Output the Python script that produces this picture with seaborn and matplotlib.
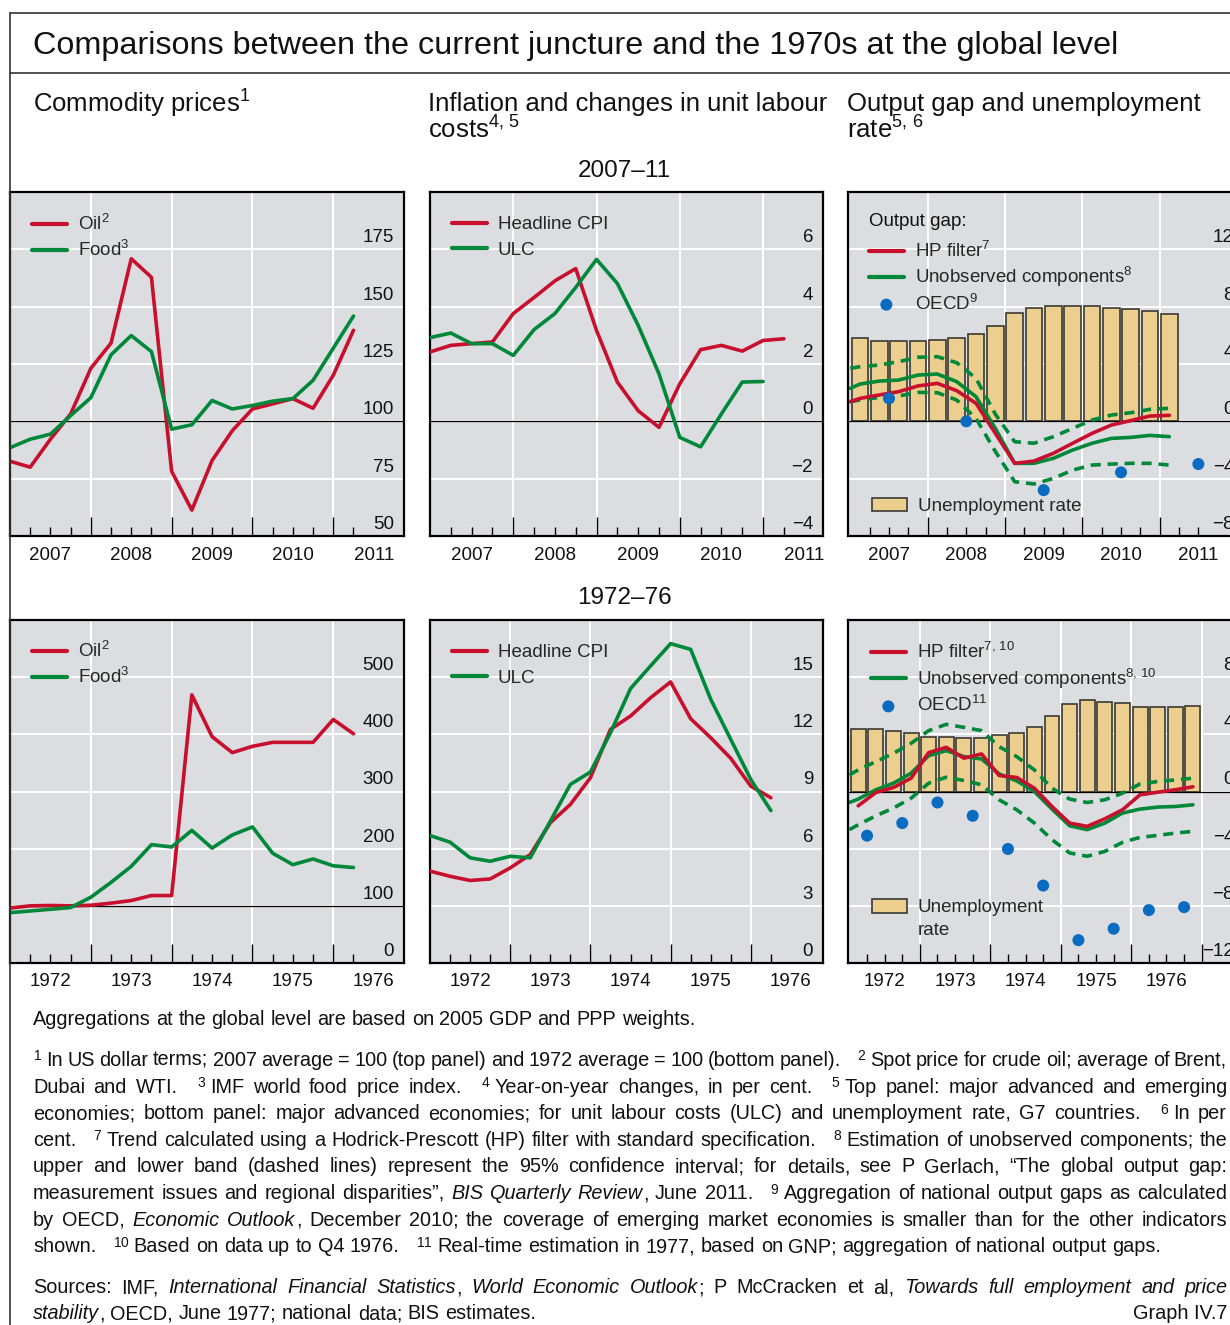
import re
import numpy as np
import matplotlib
matplotlib.use("Agg")
import matplotlib.pyplot as plt
import matplotlib.transforms as mtransforms
from matplotlib.lines import Line2D
from matplotlib.patches import Patch
import seaborn as sns

sns.set_style("white")
plt.rcParams["font.family"] = ["Liberation Sans", "DejaVu Sans"]
plt.rcParams["mathtext.fontset"] = "custom"
plt.rcParams["mathtext.rm"] = "Liberation Sans"
plt.rcParams["mathtext.it"] = "Liberation Sans:italic"
plt.rcParams["mathtext.bf"] = "Liberation Sans:bold"
plt.rcParams["axes.unicode_minus"] = True

W, H, DPI = 1230, 1325, 100

# ---------------------------------------------------------------- data
# 2007-11, quarterly
q_0711 = 2007 + 0.25 * np.arange(18)
oil_0711 = [82.6, 80.0, 92.2, 103.2, 123.1, 134.1, 170.9, 162.8, 78.2, 61.3,
            82.9, 95.9, 105.4, 107.6, 109.9, 105.7, 120.1, 139.7]
food_0711 = [88.5, 92.2, 94.4, 102.5, 110.3, 129.0, 137.4, 130.4, 96.6, 98.5,
             109.1, 105.4, 106.9, 108.8, 109.9, 117.9, 131.9, 145.9]
cpi_0711 = [2.42, 2.65, 2.71, 2.77, 3.76, 4.32, 4.90, 5.33, 3.17, 1.37,
            0.37, -0.21, 1.31, 2.50, 2.65, 2.45, 2.82, 2.88]
ulc_0711 = [2.92, 3.08, 2.71, 2.71, 2.30, 3.20, 3.76, 4.67, 5.65, 4.81,
            3.35, 1.66, -0.56, -0.89, 0.26, 1.37, 1.39]

qmid_0711 = 2007.125 + 0.25 * np.arange(17)
gap_x_0711 = np.concatenate(([2007.0], qmid_0711))
hp_0711 = [1.37, 1.60, 1.84, 2.07, 2.47, 2.65, 2.14, 1.26, -0.84, -2.93,
           -2.77, -2.23, -1.53, -0.84, -0.26, 0.05, 0.37, 0.42]
uc_0711 = [2.30, 2.60, 2.81, 2.88, 3.23, 3.30, 2.77, 1.72, -0.49, -2.93,
           -2.93, -2.58, -2.00, -1.53, -1.19, -1.12, -0.98, -1.07]
uc_hi_0711 = [3.70, 3.81, 3.93, 4.16, 4.47, 4.51, 4.09, 3.00, 0.50, -1.42,
              -1.53, -1.07, -0.49, 0.09, 0.44, 0.60, 0.84, 0.91]
uc_lo_0711 = [1.37, 1.49, 1.67, 1.77, 2.02, 2.00, 1.49, 0.20, -2.10, -4.21,
              -4.37, -3.98, -3.40, -3.05, -2.98, -2.93, -2.93, -3.05]
unemp_0711 = [5.79, 5.63, 5.60, 5.58, 5.67, 5.84, 6.07, 6.65, 7.53, 7.88,
              8.05, 8.05, 8.05, 7.88, 7.84, 7.67, 7.51]
oecd_x_0711 = [2007.5, 2008.5, 2009.5, 2010.5, 2011.5]
oecd_0711 = [1.6, 0.0, -4.8, -3.56, -2.98]

# 1972-76, quarterly
q_7276 = 1972 + 0.25 * np.arange(18)
oil_7276 = [96, 100, 100.6, 100, 101, 104.7, 109.3, 118, 118, 469,
            396, 368, 379, 386, 386, 386, 426, 401]
food_7276 = [88, 91, 94, 97, 115, 141, 169, 207, 203, 232,
             201, 224, 238, 192, 172, 182, 170, 167]
cpi_7276 = [4.82, 4.55, 4.33, 4.41, 4.99, 5.69, 7.36, 8.32, 9.72, 12.26,
            12.96, 13.92, 14.75, 12.82, 11.82, 10.74, 9.28, 8.67]
ulc_7276 = [6.69, 6.34, 5.52, 5.34, 5.60, 5.52, 7.44, 9.37, 10.02, 12.08,
            14.40, 15.59, 16.76, 16.46, 13.84, 11.73, 9.63, 8.00]

qmid_7276 = 1972.125 + 0.25 * np.arange(20)
uc_x_7276 = np.concatenate(([1972.0], qmid_7276))
hp_7276 = [-1.00, -0.07, 0.28, 0.93, 2.72, 3.09, 2.33, 2.63, 1.12, 0.98,
           0.23, -1.05, -2.21, -2.44, -1.91, -1.28, -0.23, -0.05, 0.12, 0.33]
uc_7276 = [-0.77, -0.53, 0.12, 0.58, 1.28, 2.51, 2.86, 2.44, 2.28, 1.23, 0.74,
           0.00, -1.23, -2.40, -2.67, -2.21, -1.51, -1.23, -1.09, -1.05, -0.93]
uc_hi_7276 = [1.16, 1.51, 2.09, 2.67, 3.37, 4.26, 4.70, 4.49, 4.26, 3.14, 2.44,
              1.51, 0.23, -0.53, -0.77, -0.58, -0.12, 0.53, 0.70, 0.81, 0.93]
uc_lo_7276 = [-2.67, -2.33, -1.70, -1.16, -0.47, 0.58, 1.00, 0.77, 0.47, -0.58,
              -1.28, -2.21, -3.37, -4.30, -4.53, -4.19, -3.56, -3.21, -3.07,
              -2.91, -2.79]
unemp_7276 = [4.35, 4.35, 4.26, 4.07, 3.84, 3.84, 3.77, 3.77, 3.93, 4.07,
              4.49, 5.28, 6.12, 6.37, 6.26, 6.16, 5.91, 5.91, 5.91, 6.00]
oecd_x_7276 = 1972.25 + 0.5 * np.arange(10)
oecd_7276 = [-3.09, -2.21, -0.77, -1.70, -4.02, -6.58, -10.4, -9.6, -8.3, -8.09]

years_0711 = [2007, 2008, 2009, 2010, 2011]
years_7276 = [1972, 1973, 1974, 1975, 1976]

# ---------------------------------------------------------------- style
BG = "#dcdde0"
RED = "#c8102e"
GREEN = "#00883a"
BLUE = "#0a6cc0"
BAR = "#eccf8f"
BAR_EDGE = "#3b3a33"
FRAME = "#333333"
INK = "#111111"
LW = 2.6
DASH = (0, (2.8, 1.9))
TICK_FS = 13.5
LEG_FS = 13.5

fig = plt.figure(figsize=(W / DPI, H / DPI), dpi=DPI)
fig.patch.set_facecolor("white")


def fx(x):
    return x / W


def fy(y):
    return 1 - y / H


def make_panel(rect, xlim, ylim, yticks, years, minor_end, major_ticks, baseline=None):
    x0, y0, x1, y1 = rect
    ax = fig.add_axes([fx(x0), fy(y1), (x1 - x0) / W, (y1 - y0) / H])
    ax.set_facecolor(BG)
    ax.set_xlim(xlim)
    ax.set_ylim(ylim)
    ax.set_axisbelow(True)
    for s in ax.spines.values():
        s.set_color("black")
        s.set_linewidth(1.6)
        s.set_visible(True)
    ax.set_yticks(yticks)
    ax.set_xticks(major_ticks)
    quarters = np.arange(years[0] + 0.25, minor_end + 0.01, 0.25)
    ax.set_xticks([q for q in quarters if abs(q - round(q)) > 1e-6], minor=True)
    ax.tick_params(axis="x", which="major", direction="in", length=13.7, width=1.0,
                   color="black", labelbottom=False, bottom=True)
    ax.tick_params(axis="x", which="minor", direction="in", length=6.5, width=1.0,
                   color="black", bottom=True)
    ax.tick_params(axis="y", which="both", length=0, labelleft=False)
    ax.grid(True, which="major", color="white", linewidth=1.4)
    ax.grid(False, which="minor")
    if baseline is not None:
        ax.axhline(baseline, color="black", linewidth=0.9, zorder=1.5)
    # value labels inside the plot, above each gridline
    trans = mtransforms.blended_transform_factory(ax.transAxes, ax.transData)
    off = mtransforms.ScaledTranslation(-10 / DPI, 3 / DPI, fig.dpi_scale_trans)
    for v in yticks:
        ax.text(1, v, f"{v:g}".replace("-", "\u2212"), transform=trans + off,
                ha="right", va="bottom", fontsize=TICK_FS, color=INK)
    # year labels centred under each year
    hpx = y1 - y0
    for yr in years:
        ax.text(yr + 0.5, -19 / hpx, str(yr), transform=ax.get_xaxis_transform(),
                ha="center", va="center", fontsize=TICK_FS, color=INK)
    ax.set_xlabel("")
    ax.set_ylabel("")
    return ax


def line(ax, x, y, color, label=None, dashed=False):
    kw = dict(x=x, y=y, ax=ax, color=color, linewidth=LW, sort=False,
              estimator=None, legend=False, zorder=3)
    if label is not None:
        kw["label"] = label
    if dashed:
        kw["linestyle"] = DASH
    sns.lineplot(**kw)


def line_legend(ax, labels, anchor, spacing):
    hl = dict(zip(*ax.get_legend_handles_labels()[::-1]))
    handles = [hl[l] for l in labels]
    leg = ax.legend(handles, labels, loc="upper left", bbox_to_anchor=anchor,
                    frameon=False, fontsize=LEG_FS, handlelength=1.85,
                    handletextpad=0.6, labelspacing=spacing, borderpad=0,
                    borderaxespad=0, scatterpoints=1)
    for h in leg.legend_handles:
        if isinstance(h, Line2D):
            h.set_linewidth(3.0)
    return leg


# ---------------------------------------------------------------- panels
TOP = (192, 536)
BOT = (620, 963)

# Commodity prices 2007-11
ax1 = make_panel((10, TOP[0], 404, TOP[1]), (2007, 2011.875), (50, 200),
                 [50, 75, 100, 125, 150, 175], years_0711, 2011.25,
                 [2008, 2009, 2010, 2011], baseline=100)
line(ax1, q_0711, oil_0711, RED, "Oil$^{2}$")
line(ax1, q_0711, food_0711, GREEN, "Food$^{3}$")
line_legend(ax1, ["Oil$^{2}$", "Food$^{3}$"], (22 / 394, 1 - 22 / 344), 0.33)

# Inflation 2007-11
ax2 = make_panel((430, TOP[0], 823, TOP[1]), (2007, 2011.72), (-4, 8),
                 [-4, -2, 0, 2, 4, 6], years_0711, 2011.25,
                 [2008, 2009, 2010, 2011], baseline=0)
line(ax2, q_0711, cpi_0711, RED, "Headline CPI")
line(ax2, q_0711[:len(ulc_0711)], ulc_0711, GREEN, "ULC")
line_legend(ax2, ["Headline CPI", "ULC"], (22 / 393, 1 - 24 / 344), 0.45)

# Output gap 2007-11
ax3 = make_panel((848, TOP[0], 1244, TOP[1]), (2006.97, 2012.09), (-8, 16),
                 [-8, -4, 0, 4, 8, 12], years_0711, 2011.5,
                 [2008, 2009, 2010, 2011], baseline=0)
sns.barplot(x=qmid_0711, y=unemp_0711, ax=ax3, native_scale=True, width=0.85,
            color=BAR, saturation=1, edgecolor=BAR_EDGE, linewidth=1.2,
            errorbar=None, label="Unemployment rate", zorder=1)
ax3.set_xlim(2006.97, 2012.09)
line(ax3, gap_x_0711, uc_hi_0711, GREEN, dashed=True)
line(ax3, gap_x_0711, uc_lo_0711, GREEN, dashed=True)
line(ax3, gap_x_0711, uc_0711, GREEN, "Unobserved components$^{8}$")
line(ax3, gap_x_0711, hp_0711, RED, "HP filter$^{7}$")
sns.scatterplot(x=oecd_x_0711, y=oecd_0711, ax=ax3, color=BLUE, s=75,
                edgecolor="none", linewidth=0, label="OECD$^{9}$", zorder=5,
                legend=False)
ax3.text(21 / 396, 1 - 29 / 344, "Output gap:", transform=ax3.transAxes,
         ha="left", va="center", fontsize=LEG_FS, color=INK)
leg3 = line_legend(ax3, ["HP filter$^{7}$", "Unobserved components$^{8}$", "OECD$^{9}$"],
                   (21 / 396, 1 - 49 / 344), 0.22)
ax3.add_artist(leg3)
h, l = ax3.get_legend_handles_labels()
bar_h = h[l.index("Unemployment rate")]
ax3.legend([bar_h], ["Unemployment rate"], loc="lower left",
           bbox_to_anchor=(24 / 396, 21 / 344), frameon=False, fontsize=LEG_FS,
           handlelength=1.85, handleheight=0.75, handletextpad=0.6, borderpad=0,
           borderaxespad=0)

# Commodity prices 1972-76
ax4 = make_panel((10, BOT[0], 404, BOT[1]), (1972, 1976.875), (0, 600),
                 [0, 100, 200, 300, 400, 500], years_7276, 1976.25,
                 [1973, 1974, 1975, 1976], baseline=100)
line(ax4, q_7276, oil_7276, RED, "Oil$^{2}$")
line(ax4, q_7276, food_7276, GREEN, "Food$^{3}$")
line_legend(ax4, ["Oil$^{2}$", "Food$^{3}$"], (22 / 394, 1 - 21 / 343), 0.33)

# Inflation 1972-76
ax5 = make_panel((430, BOT[0], 823, BOT[1]), (1972, 1976.9), (0, 18),
                 [0, 3, 6, 9, 12, 15], years_7276, 1976.25,
                 [1973, 1974, 1975, 1976])
line(ax5, q_7276, cpi_7276, RED, "Headline CPI")
line(ax5, q_7276, ulc_7276, GREEN, "ULC")
line_legend(ax5, ["Headline CPI", "ULC"], (22 / 393, 1 - 24 / 343), 0.45)

# Output gap 1972-76
ax6 = make_panel((848, BOT[0], 1244, BOT[1]), (1971.98, 1977.6), (-12, 12),
                 [-12, -8, -4, 0, 4, 8], years_7276, 1976.75,
                 [1973, 1974, 1975, 1976, 1977], baseline=0)
sns.barplot(x=qmid_7276, y=unemp_7276, ax=ax6, native_scale=True, width=0.85,
            color=BAR, saturation=1, edgecolor=BAR_EDGE, linewidth=1.2,
            errorbar=None, label="Unemployment", zorder=1)
ax6.set_xlim(1971.98, 1977.6)
line(ax6, uc_x_7276, uc_hi_7276, GREEN, dashed=True)
line(ax6, uc_x_7276, uc_lo_7276, GREEN, dashed=True)
line(ax6, uc_x_7276, uc_7276, GREEN, "Unobserved components$^{8,\\,10}$")
line(ax6, qmid_7276, hp_7276, RED, "HP filter$^{7,\\,10}$")
sns.scatterplot(x=oecd_x_7276, y=oecd_7276, ax=ax6, color=BLUE, s=75,
                edgecolor="none", linewidth=0, label="OECD$^{11}$", zorder=5,
                legend=False)
leg6 = line_legend(ax6, ["HP filter$^{7,\\,10}$", "Unobserved components$^{8,\\,10}$",
                         "OECD$^{11}$"], (23 / 396, 1 - 22 / 343), 0.24)
ax6.add_artist(leg6)
h, l = ax6.get_legend_handles_labels()
bar_h6 = h[l.index("Unemployment")]
ax6.legend([bar_h6, Patch(alpha=0)], ["Unemployment", "rate"], loc="upper left",
           bbox_to_anchor=(24 / 396, 1 - 279 / 343), frameon=False, fontsize=LEG_FS,
           handlelength=1.85, handleheight=0.75, handletextpad=0.6, borderpad=0,
           borderaxespad=0, labelspacing=0.3)

for a in (ax3, ax6):
    for s in a.spines.values():
        s.set_zorder(10)

# ---------------------------------------------------------------- frame and headings
for (xa, ya, xb, yb) in [(10, 13, W, 13), (10, 73, W, 73), (10, 13, 10, H)]:
    fig.add_artist(Line2D([fx(xa), fx(xb)], [fy(ya), fy(yb)], color=FRAME,
                          linewidth=1.2, transform=fig.transFigure))

fig.text(fx(33), fy(54), "Comparisons between the current juncture and the 1970s at the global level",
         fontsize=23.3, va="baseline", ha="left", color=INK)
HEAD_FS = 18.5
fig.text(fx(33), fy(113), "Commodity prices$^{1}$", fontsize=HEAD_FS, va="baseline", color=INK)
fig.text(fx(428), fy(111), "Inflation and changes in unit labour", fontsize=HEAD_FS,
         va="baseline", color=INK)
fig.text(fx(428), fy(139), "costs$^{4,\\,5}$", fontsize=HEAD_FS, va="baseline", color=INK)
fig.text(fx(847), fy(111), "Output gap and unemployment", fontsize=HEAD_FS,
         va="baseline", color=INK)
fig.text(fx(847), fy(139), "rate$^{5,\\,6}$", fontsize=HEAD_FS, va="baseline", color=INK)
fig.text(fx(624), fy(177), "2007\u201311", fontsize=17.5, va="baseline", ha="center", color=INK)
fig.text(fx(624), fy(604), "1972\u201376", fontsize=17.5, va="baseline", ha="center", color=INK)

# ---------------------------------------------------------------- notes
FOOT_FS = 14.3
SUP_GAP = 4  # pixels between a note number and its text
renderer = fig.canvas.get_renderer()


def text_width(s, italic=False, size=FOOT_FS):
    t = fig.text(0, 0, s, fontsize=size, fontstyle="italic" if italic else "normal")
    w = t.get_window_extent(renderer=renderer).width
    t.remove()
    if s.startswith("$"):
        w += SUP_GAP
    return w


SPACE = text_width("a a") - text_width("aa")


def split_word(tok, italic):
    """Split one word into (text, italic) runs; '*' toggles italics, $..$ stays whole."""
    segs = []
    for piece in re.split(r"(\$[^$]*\$)", tok):
        if not piece:
            continue
        if piece.startswith("$"):
            segs.append((piece, False))
            continue
        buf = ""
        for ch in piece:
            if ch == "*":
                if buf:
                    segs.append((buf, italic))
                    buf = ""
                italic = not italic
            else:
                buf += ch
        if buf:
            segs.append((buf, italic))
    return segs, italic


def note_line(y, line_txt, justify=False, x_left=33, x_right=1227, state=None):
    """Lay out one line of notes; runs of extra spaces widen the gap between notes."""
    italic = state["italic"]
    words, pending = [], 0
    for tok in line_txt.split(" "):
        if tok == "":
            pending += 1
            continue
        segs, italic = split_word(tok, italic)
        words.append((segs, pending))
        pending = 0
    state["italic"] = italic
    widths = [[text_width(s, it) for s, it in segs] for segs, _ in words]
    total = sum(sum(w) for w in widths)
    extra = sum(p for _, p in words) * SPACE
    gap = SPACE
    if justify and len(words) > 1:
        gap = max((x_right - x_left - total - extra) / (len(words) - 1), 0.5 * SPACE)
    x = x_left
    for i, ((segs, p), ws) in enumerate(zip(words, widths)):
        if i > 0:
            x += gap + p * SPACE
        for (s, it), w in zip(segs, ws):
            fig.text(fx(x), fy(y), s, fontsize=FOOT_FS, va="baseline", ha="left",
                     fontstyle="italic" if it else "normal", color=INK)
            x += w


st = {"italic": False}
note_line(1025, "Aggregations at the global level are based on 2005 GDP and PPP weights.", state=st)

notes = [
    r"$^{1}$In US dollar terms; 2007 average = 100 (top panel) and 1972 average = 100 (bottom panel).   $^{2}$Spot price for crude oil; average of Brent,",
    r"Dubai and WTI.   $^{3}$IMF world food price index.   $^{4}$Year-on-year changes, in per cent.   $^{5}$Top panel: major advanced and emerging",
    r"economies; bottom panel: major advanced economies; for unit labour costs (ULC) and unemployment rate, G7 countries.   $^{6}$In per",
    r"cent.   $^{7}$Trend calculated using a Hodrick-Prescott (HP) filter with standard specification.   $^{8}$Estimation of unobserved components; the",
    "upper and lower band (dashed lines) represent the 95% confidence interval; for details, see P Gerlach, \u201cThe global output gap:",
    "measurement issues and regional disparities\u201d, *BIS Quarterly Review*, June 2011.   $^{9}$Aggregation of national output gaps as calculated",
    "by OECD, *Economic Outlook*, December 2010; the coverage of emerging market economies is smaller than for the other indicators",
    r"shown.   $^{10}$Based on data up to Q4 1976.   $^{11}$Real-time estimation in 1977, based on GNP; aggregation of national output gaps.",
]
base = 1066
for i, txt in enumerate(notes):
    note_line(base + i * 26.6, txt, justify=(i < len(notes) - 1), state=st)

note_line(1293, "Sources: IMF, *International Financial Statistics*, *World Economic Outlook*; P McCracken et al, *Towards full employment and price*",
          justify=True, state=st)
note_line(1319, "*stability*, OECD, June 1977; national data; BIS estimates.", state=st)
fig.text(fx(1227), fy(1319), "Graph IV.7", fontsize=FOOT_FS, va="baseline", ha="right",
         color=INK)

fig.savefig("out.png", dpi=DPI, facecolor="white")
